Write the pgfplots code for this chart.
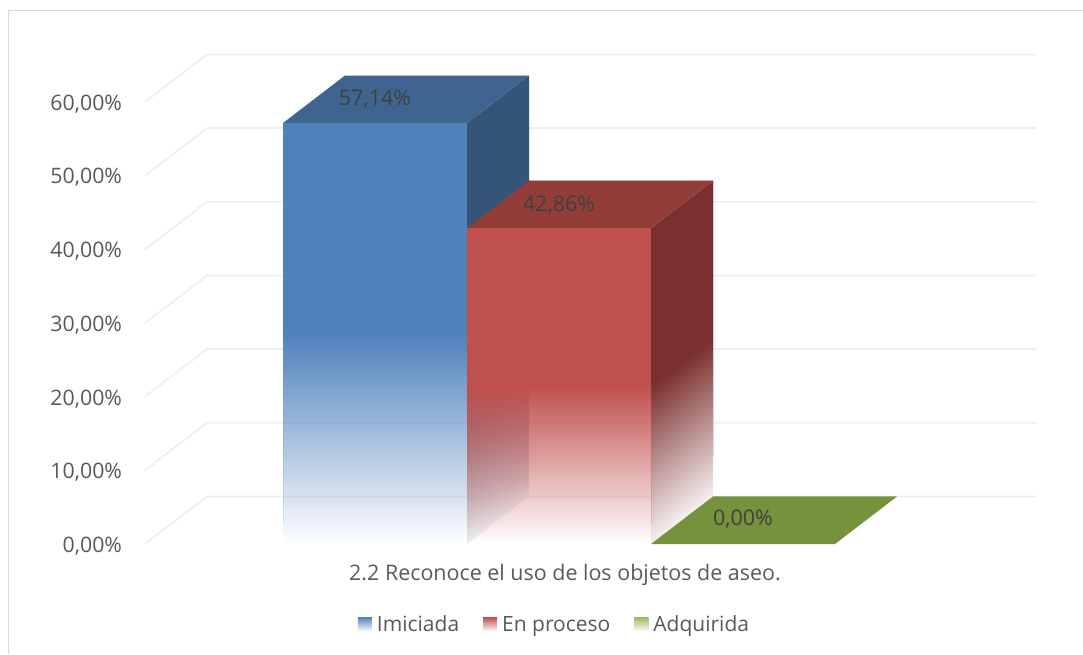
\documentclass[border=0pt]{standalone}
\usepackage{pgfplots}
\pgfplotsset{compat=1.18}
\usepackage{fontspec}
\setmainfont{Open Sans}
\usetikzlibrary{fadings}
\definecolor{txt}{HTML}{595959}
\definecolor{lbl}{HTML}{404040}
\definecolor{gridc}{HTML}{EFEFEF}
\definecolor{framec}{HTML}{D9D9D9}
\definecolor{bluef}{HTML}{4F81BD}
\definecolor{bluet}{HTML}{3F648F}
\definecolor{blues}{HTML}{345578}
\definecolor{redf}{HTML}{C0504D}
\definecolor{redt}{HTML}{933D39}
\definecolor{reds}{HTML}{7A302E}
\definecolor{greent}{HTML}{76923C}
\definecolor{greenl}{HTML}{9BBB59}
\tikzfading[name=downfade, top color=transparent!0, bottom color=transparent!100]
% side faces fade along the depth slope: white below, solid above half the value
\pgfdeclareverticalshading{bluefade}{100bp}{color(0bp)=(white); color(19bp)=(white); color(50bp)=(blues); color(100bp)=(blues)}
\pgfdeclareverticalshading{redfade}{100bp}{color(0bp)=(white); color(21bp)=(white); color(50bp)=(reds); color(100bp)=(reds)}
\begin{document}
\begin{tikzpicture}
\begin{axis}[
    scale only axis,
    width=1083pt, height=654pt,
    xmin=0, xmax=1083,
    ymin=-14.93, ymax=73.84,
    axis line style={draw=none},
    tick style={draw=none},
    xtick=\empty,
    ytick={0,10,20,30,40,50,60},
    yticklabel={\pgfmathprintnumber{\tick}\%},
    /pgf/number format/.cd, fixed, fixed zerofill, precision=2, use comma, assume math mode=true,
    /pgfplots/.cd,
    yticklabel style={anchor=east, xshift=125.5pt, yshift=-2pt, font=\fontsize{21.3}{26}\selectfont, text=txt},
    legend style={at={(axis cs:554.5,-10.9)}, anchor=center, draw=none, fill=none,
      legend columns=3, font=\fontsize{21}{26}\selectfont, text=txt,
      /tikz/every odd column/.append style={column sep=3pt},
      /tikz/every even column/.append style={column sep=22pt}},
]
% walls
\addplot[gridc,line width=1.8pt,forget plot] coordinates {(145,60)(207,66.45)(1037,66.45)};
\addplot[gridc,line width=1.8pt,forget plot] coordinates {(145,50)(207,56.45)(1037,56.45)};
\addplot[gridc,line width=1.8pt,forget plot] coordinates {(145,40)(207,46.45)(1037,46.45)};
\addplot[gridc,line width=1.8pt,forget plot] coordinates {(145,30)(207,36.45)(1037,36.45)};
\addplot[gridc,line width=1.8pt,forget plot] coordinates {(145,20)(207,26.45)(1037,26.45)};
\addplot[gridc,line width=1.8pt,forget plot] coordinates {(145,10)(207,16.45)(1037,16.45)};
\addplot[gridc,line width=1.8pt,forget plot] coordinates {(145,0)(207,6.45)(1037,6.45)};
% frame
\addplot[framec,line width=1.5pt,forget plot] coordinates {(8.5,-14.93)(8.5,72.42)(1083,72.42)};
% Imiciada 57,14
\addplot[shading=bluefade,shading angle=37.45,draw=none,forget plot] coordinates {(467,0)(529,6.45)(529,63.59)(467,57.14)} --cycle;
\addplot[fill=bluet,draw=none,forget plot] coordinates {(283,57.14)(345,63.59)(529,63.59)(467,57.14)} --cycle;
\addplot[fill=bluef,draw=none,forget plot] coordinates {(283,28.57)(467,28.57)(467,57.14)(283,57.14)} --cycle;
\addplot[fill=bluef,draw=none,path fading=downfade,forget plot] coordinates {(283,0)(467,0)(467,28.57)(283,28.57)} --cycle;
% En proceso 42,86
\addplot[shading=redfade,shading angle=37.45,draw=none,forget plot] coordinates {(651,0)(713,6.45)(713,49.31)(651,42.86)} --cycle;
\addplot[fill=redt,draw=none,forget plot] coordinates {(467,42.86)(529,49.31)(713,49.31)(651,42.86)} --cycle;
\addplot[fill=redf,draw=none,forget plot] coordinates {(467,21.43)(651,21.43)(651,42.86)(467,42.86)} --cycle;
\addplot[fill=redf,draw=none,path fading=downfade,forget plot] coordinates {(467,0)(651,0)(651,21.43)(467,21.43)} --cycle;
% faint edges of the faded faces
\addplot[bluef,opacity=0.15,line width=1pt,forget plot] coordinates {(283,3)(283,28.57)};
\addplot[redf,opacity=0.2,line width=1pt,forget plot] coordinates {(651,3)(651,21.43)};
\addplot[redf,opacity=0.2,line width=1pt,forget plot] coordinates {(713,12)(713,49.31)(529,49.31)};
% Adquirida 0,00
\addplot[fill=greent,draw=none,forget plot] coordinates {(651,0)(713,6.45)(897,6.45)(835,0)} --cycle;
% data labels
\node[text=lbl,font=\fontsize{21.5}{26}\selectfont] at (axis cs:375,60.4) {57,14\%};
\node[text=lbl,font=\fontsize{21.5}{26}\selectfont] at (axis cs:559,46.0) {42,86\%};
\node[text=lbl,font=\fontsize{21.5}{26}\selectfont] at (axis cs:743,3.4) {0,00\%};
% category name
\node[text=txt,font=\fontsize{21.45}{26}\selectfont] at (axis cs:565,-4.2) {2.2 Reconoce el uso de los objetos de aseo.};
% legend
\addlegendimage{legend image code/.code={\shade[top color=bluef,middle color=bluef,bottom color=white,draw=none] (0pt,-7pt) rectangle (14pt,7pt);}}
\addlegendimage{legend image code/.code={\shade[top color=redf,middle color=redf,bottom color=white,draw=none] (0pt,-7pt) rectangle (14pt,7pt);}}
\addlegendimage{legend image code/.code={\shade[top color=greenl,middle color=greenl,bottom color=white,draw=none] (0pt,-7pt) rectangle (14pt,7pt);}}
\legend{Imiciada,En proceso,Adquirida}
\end{axis}
\end{tikzpicture}
\end{document}
